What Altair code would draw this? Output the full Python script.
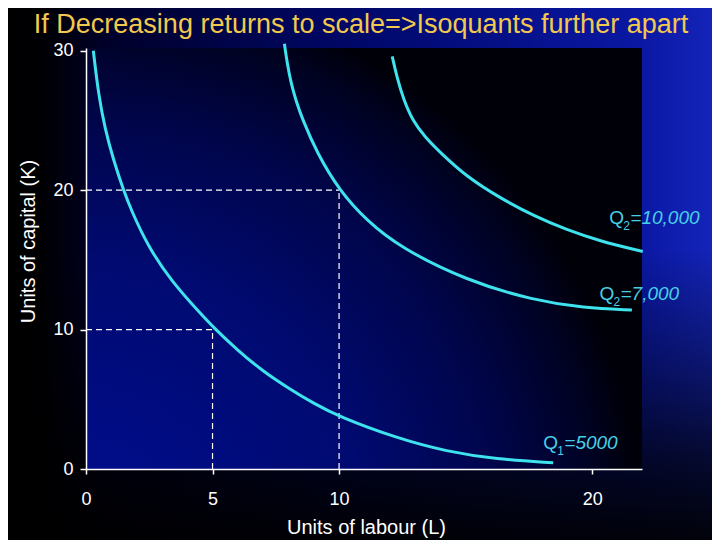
import altair as alt
import pandas as pd

# ---------------- data ----------------
TITLE = "If Decreasing returns to scale=>Isoquants further apart"

q1_L = [0.29, 0.49, 0.75, 1.08, 1.48, 1.78, 2.44, 3.36, 4.55, 5.07, 6.0, 7.0, 8.0, 9.0, 10.0, 12.3, 14.25, 16.2, 18.46]
q1_K = [30.0, 26.9, 24.4, 22.2, 20.0, 18.6, 16.0, 13.5, 11.1, 10.1, 8.5, 7.0, 5.8, 4.7, 3.75, 2.2, 1.25, 0.7, 0.45]

q2_L = [7.84, 7.95, 8.1, 8.3, 8.55, 9.12, 10.0, 11.1, 12.4, 15.05, 17.7, 19.66, 21.57]
q2_K = [30.5, 29.1, 27.7, 26.4, 25.1, 22.7, 20.0, 17.8, 15.9, 13.5, 12.1, 11.55, 11.4]

q3_L = [12.1, 12.3, 12.55, 12.9, 13.4, 14.0, 15.05, 16.4, 17.7, 19.0, 20.3, 22.0]
q3_K = [29.6, 28.0, 26.5, 25.0, 23.8, 22.7, 20.95, 19.4, 18.15, 17.15, 16.35, 15.6]

# dashed guide lines (L from, L to, K from, K to)
guide_L1 = [0, 10, 0, 5]
guide_L2 = [10, 10, 5, 5]
guide_K1 = [20, 0, 10, 0]
guide_K2 = [20, 20, 10, 10]

# curve labels
lab_L = [20.68, 20.29, 18.07]
lab_K = [17.6, 12.1, 1.41]
lab_sub = ["2", "2", "1"]
lab_num = ["=10,000", "=7,000", "=5000"]

x_ticks = [0, 5, 10, 20]
y_ticks = [0, 10, 20, 30]

# ---------------- tables ----------------
curves = pd.concat([
    pd.DataFrame({"L": q1_L, "K": q1_K, "curve": "Q1"}),
    pd.DataFrame({"L": q2_L, "K": q2_K, "curve": "Q2a"}),
    pd.DataFrame({"L": q3_L, "K": q3_K, "curve": "Q2b"}),
], ignore_index=True)
guides = pd.DataFrame({"L": guide_L1, "L2": guide_L2, "K": guide_K1, "K2": guide_K2})
labels = pd.DataFrame({"L": lab_L, "K": lab_K, "sub": lab_sub, "num": lab_num})
one = pd.DataFrame({"t": [TITLE]})

# ---------------- style ----------------
W, H = 556, 421
PL, PT, PR, PB = 78, 40, 70, 71
FONT = "Liberation Sans"
TICKFONT = "Liberation Sans Narrow, Liberation Sans"
CURVE = "#3ee3ee"
LABEL = "#46cfe6"

page_grad = {
    "gradient": "linear", "x1": 0, "y1": 0, "x2": 1, "y2": 0,
    "stops": [
        {"offset": 0, "color": "#000000"},
        {"offset": 0.05, "color": "#000004"},
        {"offset": 0.14, "color": "#00002a"},
        {"offset": 0.5, "color": "#00086a"},
        {"offset": 0.9, "color": "#0a18a4"},
        {"offset": 1, "color": "#1424b8"},
    ],
}
fade_grad = {
    "gradient": "linear", "x1": 0, "y1": 0, "x2": 0, "y2": 1,
    "stops": [
        {"offset": 0, "color": "rgba(0,0,0,0)"},
        {"offset": 0.45, "color": "rgba(0,0,0,0)"},
        {"offset": 0.7, "color": "rgba(0,0,0,0.45)"},
        {"offset": 0.85, "color": "rgba(0,0,0,0.75)"},
        {"offset": 1, "color": "rgba(0,0,0,0.95)"},
    ],
}
plot_grad = {
    "gradient": "radial", "x1": 0, "y1": 1, "x2": 0, "y2": 1, "r1": 0, "r2": 1,
    "stops": [
        {"offset": 0, "color": "#000e90"},
        {"offset": 0.5, "color": "#000a70"},
        {"offset": 0.75, "color": "#00054a"},
        {"offset": 0.92, "color": "#000222"},
        {"offset": 1, "color": "#000008"},
    ],
}

xs = alt.Scale(domain=[0, 21.97], nice=False, zero=False)
ys = alt.Scale(domain=[0, 30.2], nice=False, zero=False)

x_axis = alt.Axis(
    values=x_ticks, grid=False, zindex=1, labelFlush=False,
    title="Units of labour (L)", titleFont=FONT, titleFontSize=20, titleFontWeight="normal",
    titleColor="white", titleX=W / 2 + 2, titleY=64, titleBaseline="alphabetic", titleAlign="center",
    labelFont=TICKFONT, labelFontSize=18, labelColor="white", labelPadding=16,
    tickSize=5, tickColor="white", tickWidth=1.5, domainColor="white", domainWidth=1.5,
)
y_axis = alt.Axis(
    values=y_ticks, grid=False, zindex=1, labelFlush=False,
    title="Units of capital (K)", titleFont=FONT, titleFontSize=20, titleFontWeight="normal",
    titleColor="white", titleAngle=270, titleX=-58, titleY=193, titleBaseline="middle", titleAlign="center",
    labelFont=TICKFONT, labelFontSize=18, labelColor="white", labelPadding=7,
    tickSize=6, tickColor="white", tickWidth=1.5, domainColor="white", domainWidth=1.5,
)

page_bg = alt.Chart(one).mark_rect(fill=page_grad, strokeWidth=0).encode(
    x=alt.value(-PL), x2=alt.value(W + PR), y=alt.value(-PT), y2=alt.value(H + PB)
)
page_fade = alt.Chart(one).mark_rect(fill=fade_grad, strokeWidth=0).encode(
    x=alt.value(-PL), x2=alt.value(W + PR), y=alt.value(-PT), y2=alt.value(H + PB)
)
plot_bg = alt.Chart(one).mark_rect(fill=plot_grad, strokeWidth=0).encode(
    x=alt.value(0), x2=alt.value(W), y=alt.value(0), y2=alt.value(H)
)

rules = alt.Chart(guides).mark_rule(color="white", strokeWidth=1.2, strokeDash=[6, 4]).encode(
    x=alt.X("L:Q", scale=xs, axis=x_axis), x2="L2:Q",
    y=alt.Y("K:Q", scale=ys, axis=y_axis), y2="K2:Q",
)

lines = alt.Chart(curves).mark_line(color=CURVE, strokeWidth=3, interpolate="basis", clip=False).encode(
    x=alt.X("L:Q", scale=xs, axis=x_axis),
    y=alt.Y("K:Q", scale=ys, axis=y_axis),
    detail="curve:N",
)

base_lab = alt.Chart(labels).encode(
    x=alt.X("L:Q", scale=xs, axis=x_axis),
    y=alt.Y("K:Q", scale=ys, axis=y_axis),
)
lab_q = base_lab.mark_text(font=FONT, fontSize=19, color=LABEL, align="left", baseline="alphabetic").encode(
    text=alt.value("Q"))
lab_s = base_lab.mark_text(font=FONT, fontSize=12, color=LABEL, align="left", baseline="alphabetic",
                           dx=14, dy=6).encode(text="sub:N")
lab_n = base_lab.mark_text(font=FONT, fontSize=19, color=LABEL, align="left", baseline="alphabetic",
                           fontStyle="italic", dx=21).encode(text="num:N")

title = alt.Chart(one).mark_text(font=FONT, fontSize=27, color="#f2c84e", align="center",
                                 baseline="alphabetic").encode(
    x=alt.value(275), y=alt.value(-15.5), text="t:N")

chart = alt.layer(page_bg, page_fade, plot_bg, rules, lines, lab_q, lab_s, lab_n, title).properties(
    width=W, height=H,
    autosize=alt.AutoSizeParams(type="none"),
    padding={"left": PL, "top": PT, "right": PR, "bottom": PB},
    background="#000010",
).configure_view(stroke=None)

chart.save("out.html", embed_options={"renderer": "svg", "actions": False})
